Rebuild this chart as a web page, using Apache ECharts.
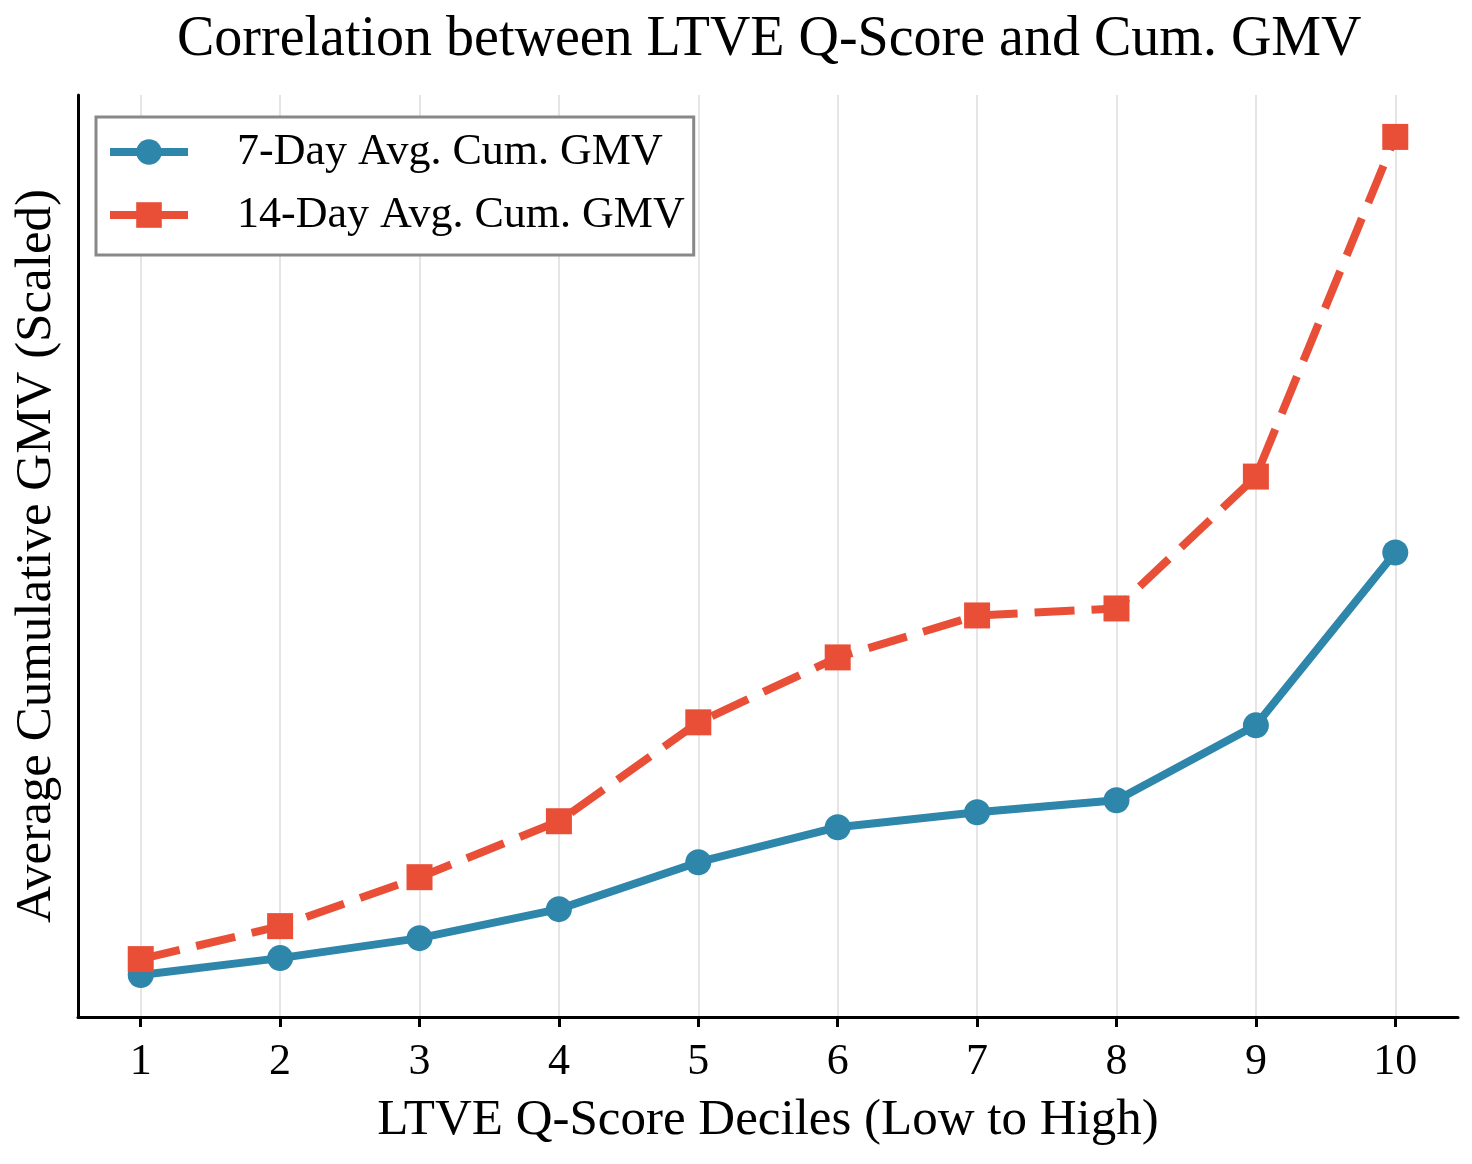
<!DOCTYPE html>
<html>
<head>
<meta charset="utf-8">
<title>Correlation between LTVE Q-Score and Cum. GMV</title>
<script src="https://cdn.jsdelivr.net/npm/echarts@6/dist/echarts.min.js"></script>
<style>
  html, body { margin: 0; padding: 0; background: #fff; }
  #chart { width: 1472px; height: 1164px; }
</style>
</head>
<body>
<div id="chart"></div>
<script>
// deciles on the x axis
const deciles = [1, 2, 3, 4, 5, 6, 7, 8, 9, 10]
// scaled averages
const gmv7Day = [4.0, 5.7, 7.7, 10.6, 15.3, 18.8, 20.3, 21.5, 29.0, 46.3]
const gmv14Day = [5.6, 8.9, 13.8, 19.4, 29.3, 35.8, 40.0, 40.7, 53.9, 87.9]

const FONT = "'Liberation Serif', 'Times New Roman', serif"
const BLUE = '#2E86AB'
const RED = '#E94F37'

// matplotlib style 5% margins around the data
const xPad = (deciles[deciles.length - 1] - deciles[0]) * 0.05
const allY = gmv7Day.concat(gmv14Day)
const yLo = Math.min(...allY)
const yHi = Math.max(...allY)
const yPad = (yHi - yLo) * 0.05

const chart = echarts.init(document.getElementById('chart'))

const option = {
  animation: false,
  backgroundColor: '#fff',
  textStyle: { fontFamily: FONT },
  title: {
    text: 'Correlation between LTVE Q-Score and Cum. GMV',
    // centred over the plot area, not the page
    left: 177,
    top: 12,
    padding: 0,
    textStyle: { fontFamily: FONT, fontSize: 56, fontWeight: 'normal', color: '#000' }
  },
  legend: {
    left: 96,
    top: 117,
    orient: 'vertical',
    padding: [13, 9, 18, 10],
    itemGap: 19,
    itemWidth: 78,
    itemHeight: 32,
    borderColor: '#888',
    borderWidth: 3,
    backgroundColor: '#fff',
    lineStyle: { width: 8, type: 'solid' },
    textStyle: { fontFamily: FONT, fontSize: 44, color: '#000', padding: [0, 0, 0, 44] },
    data: ['7-Day Avg. Cum. GMV', '14-Day Avg. Cum. GMV']
  },
  grid: {
    left: 78,
    right: 14,
    top: 95,
    bottom: 147,
    containLabel: false
  },
  xAxis: {
    type: 'value',
    min: deciles[0] - xPad,
    max: deciles[deciles.length - 1] + xPad,
    name: 'LTVE Q-Score Deciles (Low to High)',
    nameLocation: 'middle',
    nameGap: 78,
    nameTextStyle: { fontFamily: FONT, fontSize: 51, color: '#000' },
    axisLine: { show: true, onZero: false, lineStyle: { color: '#000', width: 3 } },
    axisTick: {
      show: true,
      customValues: deciles,
      length: 10,
      lineStyle: { color: '#000', width: 3 }
    },
    axisLabel: {
      customValues: deciles,
      margin: 23,
      fontFamily: FONT,
      fontSize: 44,
      color: '#000'
    },
    splitLine: { show: true, lineStyle: { color: '#e5e5e5', width: 2 } }
  },
  yAxis: {
    type: 'value',
    min: yLo - yPad,
    max: yHi + yPad,
    name: 'Average Cumulative GMV (Scaled)',
    nameLocation: 'middle',
    nameGap: 16,
    nameRotate: 90,
    nameTextStyle: { fontFamily: FONT, fontSize: 51, color: '#000' },
    axisLine: { show: true, onZero: false, lineStyle: { color: '#000', width: 3 } },
    axisTick: { show: false },
    axisLabel: { show: false },
    splitLine: { show: false }
  },
  series: [
    {
      name: '7-Day Avg. Cum. GMV',
      type: 'line',
      data: deciles.map((d, i) => [d, gmv7Day[i]]),
      symbol: 'circle',
      symbolSize: 26,
      showAllSymbol: true,
      lineStyle: { color: BLUE, width: 8 },
      itemStyle: { color: BLUE },
      z: 3
    },
    {
      name: '14-Day Avg. Cum. GMV',
      type: 'line',
      data: deciles.map((d, i) => [d, gmv14Day[i]]),
      symbol: 'rect',
      symbolSize: 26,
      showAllSymbol: true,
      lineStyle: { color: RED, width: 8, type: [40, 17] },
      itemStyle: { color: RED },
      z: 4
    }
  ]
}

chart.setOption(option)
</script>
</body>
</html>
